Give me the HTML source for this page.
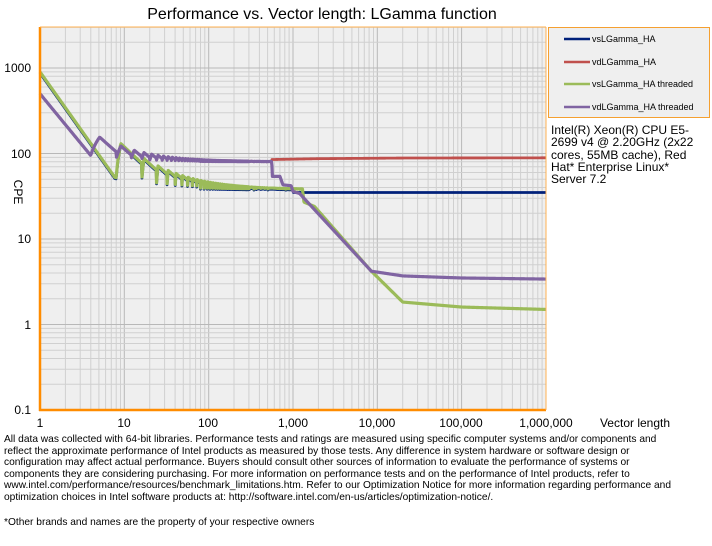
<!DOCTYPE html>
<html><head><meta charset="utf-8">
<style>
body{margin:0;width:712px;height:546px;background:#fff;overflow:hidden;font-family:"Liberation Sans",Arial,sans-serif;}
svg{position:absolute;left:0;top:0}
.note{position:absolute;left:4px;top:434px;width:706px;font-size:10.2px;line-height:11.6px;color:#000;white-space:nowrap;}
.foot{position:absolute;left:4px;top:517px;font-size:10.2px;color:#000;}
.cpu{position:absolute;left:551px;top:124px;font-size:12px;line-height:12.3px;white-space:nowrap;}
</style></head><body>
<svg id="s" width="712" height="546" xmlns="http://www.w3.org/2000/svg">
<text x="322" y="19" font-size="16" text-anchor="middle" font-family="Liberation Sans, Arial, sans-serif">Performance vs. Vector length: LGamma function</text>
<rect x="40" y="27" width="506" height="383" fill="#efefef"/>
<g id="grid"></g>
<g id="series" fill="none" stroke-linejoin="round"></g>
<line x1="40" y1="27" x2="40" y2="411" stroke="#ff8c00" stroke-width="2.5"/>
<line x1="39" y1="410" x2="546" y2="410" stroke="#ff8c00" stroke-width="2.5"/>
<line x1="546" y1="27" x2="546" y2="410" stroke="#ffb050" stroke-width="1"/>
<line x1="40" y1="27" x2="546" y2="27" stroke="#ffb050" stroke-width="1"/>
<g font-size="12" font-family="Liberation Sans, Arial, sans-serif" text-anchor="end">
<text x="31" y="72">1000</text><text x="31" y="158">100</text><text x="31" y="243">10</text><text x="31" y="329">1</text><text x="31" y="414">0.1</text>
</g>
<g font-size="12" font-family="Liberation Sans, Arial, sans-serif" text-anchor="middle">
<text x="40" y="427">1</text><text x="124" y="427">10</text><text x="208" y="427">100</text><text x="293" y="427">1,000</text><text x="377" y="427">10,000</text><text x="461" y="427">100,000</text><text x="546" y="427">1,000,000</text>
<text x="635" y="427">Vector length</text>
</g>
<text x="0" y="0" font-size="12" transform="translate(14,192) rotate(90)" font-family="Liberation Sans, Arial, sans-serif" text-anchor="middle">CPE</text>
<rect x="548.5" y="27.5" width="161" height="90" fill="#efefef" stroke="#f5a030" stroke-width="1"/>
<g font-size="9" font-family="Liberation Sans, Arial, sans-serif">
<line x1="564" y1="39" x2="590" y2="39" stroke="#00207a" stroke-width="2.5"/><text x="592" y="42">vsLGamma_HA</text>
<line x1="564" y1="62" x2="590" y2="62" stroke="#c0504d" stroke-width="2.5"/><text x="592" y="65">vdLGamma_HA</text>
<line x1="564" y1="84" x2="590" y2="84" stroke="#9bbb59" stroke-width="2.5"/><text x="592" y="87">vsLGamma_HA threaded</text>
<line x1="564" y1="107" x2="590" y2="107" stroke="#8064a2" stroke-width="2.5"/><text x="592" y="110">vdLGamma_HA threaded</text>
</g>
</svg>
<div class="cpu">Intel(R) Xeon(R) CPU E5-<br>2699 v4 @ 2.20GHz (2x22<br>cores, 55MB cache), Red<br>Hat* Enterprise Linux*<br>Server 7.2</div>
<div class="note">All data was collected with 64-bit libraries. Performance tests and ratings are measured using specific computer systems and/or components and<br>reflect the approximate performance of Intel products as measured by those tests. Any difference in system hardware or software design or<br>configuration may affect actual performance. Buyers should consult other sources of information to evaluate the performance of systems or<br>components they are considering purchasing. For more information on performance tests and on the performance of Intel products, refer to<br>www.intel.com/performance/resources/benchmark_limitations.htm. Refer to our Optimization Notice for more information regarding performance and<br>optimization choices in Intel software products at: http://software.intel.com/en-us/articles/optimization-notice/.</div>
<div class="foot">*Other brands and names are the property of your respective owners</div>
<script>
var K=84.33;
var X=function(n){return 40+K*Math.log10(n)};
var Y=function(v){return 324.5-85.5*Math.log10(v)};
var g=document.getElementById('grid'),h='';
for(var d=0;d<6;d++)for(var k=1;k<10;k++){var x=X(k*Math.pow(10,d));h+='<line x1="'+x.toFixed(1)+'" y1="27" x2="'+x.toFixed(1)+'" y2="410" stroke="'+(k==1?'#b8b8b8':'#d0d0d0')+'" stroke-width="1"/>';}
for(var d=-1;d<4;d++)for(var k=1;k<10;k++){var v=k*Math.pow(10,d);var y=Y(v);if(y<27)continue;h+='<line x1="40" y1="'+y.toFixed(1)+'" x2="546" y2="'+y.toFixed(1)+'" stroke="'+(k==1?'#b8b8b8':'#d0d0d0')+'" stroke-width="1"/>';}
g.innerHTML=h;
function interp(pts,n){var u=Math.log10(n);for(var i=0;i<pts.length-1;i++){var a=pts[i],b=pts[i+1];var ua=Math.log10(a[0]),ub=Math.log10(b[0]);if(u<=ub){var t=(u-ua)/(ub-ua);return Math.pow(10,Math.log10(a[1])+t*(Math.log10(b[1])-Math.log10(a[1])));}}return pts[pts.length-1][1];}
function saw(n,w,C,f,T){var r=n-w*Math.floor(n/w);var s=Math.min(1,r/1.1);return (C+f*(n-r)+f*r*0.2+T*s)/n;}
function single(n){if(n<7.6)return 900*Math.pow(n,-1.39);if(n<8)return 53-(n-7.6)*2.5;return saw(n,8,112,38,763);}
function dbl(n){if(n<4)return 500*Math.pow(n,-1.2);return saw(n,4,64,80,391);}
var blue=function(n){return n<1000?single(n)*0.97:35};
var red=function(n){return n<560?dbl(n):interp([[560,85],[2000,87],[20000,88.5],[1e6,89]],n)};
var green=function(n){return n<1300?single(n):interp([[1300,37],[1350,27],[1800,24],[8500,4.2],[20000,1.83],[100000,1.6],[1e6,1.5]],n)};
var purple=function(n){return n<560?dbl(n):interp([[560,80],[570,54],[700,54],[760,43],[950,42],[1000,36],[1200,34],[8500,4.2],[20000,3.7],[100000,3.5],[1e6,3.4]],n)};
function path(f,col,w){var d='',first=true;
for(var x=40;x<=546;){var n=Math.pow(10,(x-40)/K);d+=(first?'M':'L')+x.toFixed(2)+','+Y(f(n)).toFixed(2);first=false;
var step=n<300?Math.min(0.5,0.1/n*K/2.3026*n/n*1):0.5; x+= n<300?Math.min(0.5,0.25*K/(2.3026*n)):0.5;}
return '<path d="'+d+'" stroke="'+col+'" stroke-width="'+w+'"/>';}
document.getElementById('series').innerHTML=path(blue,'#00207a',2.8)+path(red,'#c0504d',2.8)+path(green,'#9bbb59',3.2)+path(purple,'#8064a2',3.2);
</script>
</body></html>
